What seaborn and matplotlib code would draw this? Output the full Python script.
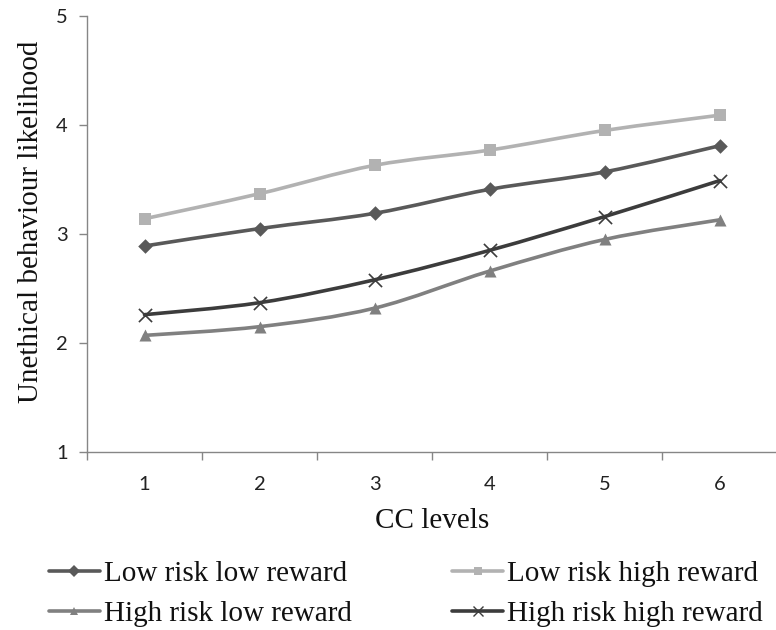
import numpy as np
import pandas as pd
import matplotlib
matplotlib.use("Agg")
import matplotlib.pyplot as plt
import seaborn as sns
from matplotlib.path import Path
from matplotlib.patches import PathPatch
from matplotlib.lines import Line2D

# Mean likelihood of unethical behaviour per CC level
cc_levels = [1, 2, 3, 4, 5, 6]
low_risk_low_reward = [2.89, 3.05, 3.19, 3.41, 3.57, 3.81]
low_risk_high_reward = [3.14, 3.37, 3.63, 3.77, 3.95, 4.09]
high_risk_low_reward = [2.07, 2.15, 2.32, 2.66, 2.95, 3.13]
high_risk_high_reward = [2.26, 2.37, 2.58, 2.85, 3.16, 3.49]

series_names = ["Low risk low reward", "Low risk high reward",
                "High risk low reward", "High risk high reward"]
series_values = [low_risk_low_reward, low_risk_high_reward,
                 high_risk_low_reward, high_risk_high_reward]
colors = ["#595959", "#b2b2b2", "#808080", "#3c3c3c"]
markers = ["D", "s", "^", "x"]
marker_sizes = [55, 75, 75, 90]
y_ticks = [1, 2, 3, 4, 5]

df = pd.DataFrame({
    "level": cc_levels * len(series_names),
    "value": sum(series_values, []),
    "series": np.repeat(series_names, len(cc_levels)),
})

sns.set_theme(style="white")
serif = ["Liberation Serif", "DejaVu Serif"]
sans = ["Lato", "DejaVu Sans"]

fig = plt.figure(figsize=(7.76, 6.3), dpi=100)
ax = fig.add_axes([0.1121, 0.2825, 0.8895, 0.6921])


def smooth_path(xs, ys):
    """Cubic Bezier path through the points (Catmull-Rom style smoothing)."""
    pts = np.column_stack([xs, ys]).astype(float)
    n = len(pts)
    verts = [pts[0]]
    codes = [Path.MOVETO]
    for i in range(n - 1):
        p0 = pts[max(i - 1, 0)]
        p1 = pts[i]
        p2 = pts[i + 1]
        p3 = pts[min(i + 2, n - 1)]
        c1 = p1 + (p2 - p0) / 6.0
        c2 = p2 - (p3 - p1) / 6.0
        verts += [c1, c2, p2]
        codes += [Path.CURVE4] * 3
    return Path(verts, codes)


for name, color, marker, ms in zip(series_names, colors, markers, marker_sizes):
    sub = df[df["series"] == name]
    patch = PathPatch(smooth_path(sub["level"].values, sub["value"].values),
                      facecolor="none", edgecolor=color, lw=2.6, zorder=2,
                      capstyle="round", joinstyle="round")
    ax.add_patch(patch)
    if marker == "x":
        sns.scatterplot(data=sub, x="level", y="value", marker=marker,
                        color=color, s=ms, linewidth=1.2, zorder=3, ax=ax,
                        legend=False)
    else:
        sns.scatterplot(data=sub, x="level", y="value", marker=marker,
                        color=color, s=ms, edgecolor=color, linewidth=0,
                        zorder=3, ax=ax, legend=False)

ax.set_xlim(0.5, 6.5)
ax.set_ylim(1, 5)

# category labels at centres, tick marks on category boundaries
ax.set_xticks(cc_levels)
ax.set_xticklabels([str(c) for c in cc_levels], fontfamily=sans, fontsize=14.5,
                   color="#222222")
ax.set_xticks(np.arange(0.5, 7.0, 1.0), minor=True)
ax.tick_params(axis="x", which="major", length=0, pad=17)
ax.tick_params(axis="x", which="minor", length=6, width=1, color="#868686",
               direction="out", bottom=True)
ax.set_yticks(y_ticks)
ax.set_yticklabels([str(t) for t in y_ticks], fontfamily=sans, fontsize=14.5,
                   color="#222222")
ax.tick_params(axis="y", length=6, width=1, color="#868686", direction="out",
               left=True, pad=8)

for side in ["top", "right"]:
    ax.spines[side].set_visible(False)
for side in ["left", "bottom"]:
    ax.spines[side].set_color("#868686")
    ax.spines[side].set_linewidth(1)

ax.set_xlabel("CC levels", fontfamily=serif, fontsize=21, color="#111111",
              labelpad=11)
ax.set_ylabel("Unethical behaviour likelihood", fontfamily=serif, fontsize=21,
              color="#111111")
ax.yaxis.set_label_coords(-0.062, 0.527)

handles = [Line2D([0], [0], color=c, lw=2.6, marker=m,
                  markersize=(6 if m != "x" else 7),
                  markeredgewidth=(0 if m != "x" else 1.0),
                  markerfacecolor=c, markeredgecolor=c)
           for c, m in zip(colors, markers)]
order = [0, 2, 1, 3]
fig.legend([handles[i] for i in order], [series_names[i] for i in order],
           ncol=2, loc="lower left", bbox_to_anchor=(0.033, -0.032),
           frameon=False, prop={"family": serif, "size": 21},
           handlelength=1.75, handletextpad=0.13, columnspacing=3.45,
           labelspacing=0.45, borderpad=0.3, labelcolor="#111111")

fig.savefig("out.png", dpi=100)
